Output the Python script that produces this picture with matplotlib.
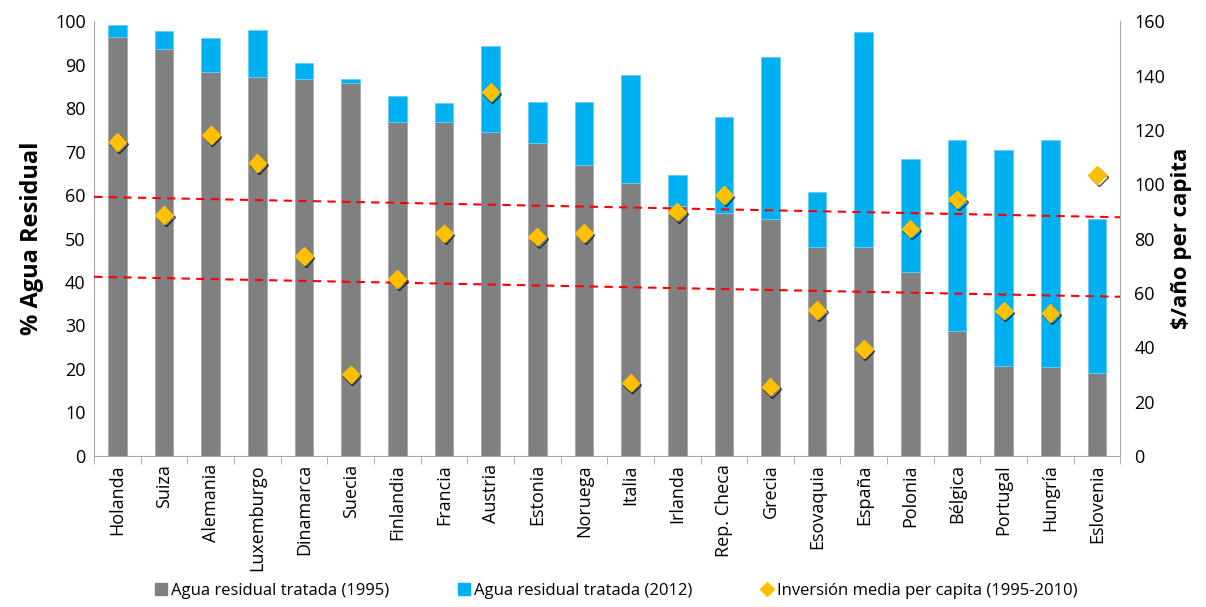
import matplotlib
matplotlib.use("Agg")
import matplotlib.pyplot as plt
import matplotlib.patheffects as pe
from matplotlib.lines import Line2D
import numpy as np

plt.rcParams['font.family'] = ['Open Sans', 'DejaVu Sans']

countries = ["Holanda", "Suiza", "Alemania", "Luxemburgo", "Dinamarca", "Suecia",
             "Finlandia", "Francia", "Austria", "Estonia", "Noruega", "Italia",
             "Irlanda", "Rep. Checa", "Grecia", "Esovaquia", "España", "Polonia",
             "Bélgica", "Portugal", "Hungría", "Eslovenia"]
treated_1995 = [96.4, 93.7, 88.3, 87.2, 86.7, 85.7, 76.8, 76.8, 74.6, 71.9, 66.9,
                62.8, 57.5, 55.8, 54.5, 48.1, 48.1, 42.4, 28.8, 20.7, 20.5, 19.0]
treated_2012 = [99.1, 97.7, 96.1, 97.9, 90.4, 86.7, 82.7, 81.2, 94.3, 81.4, 81.4,
                87.7, 64.6, 77.9, 91.7, 60.8, 97.5, 68.4, 72.6, 70.4, 72.7, 54.5]
investment = [115.6, 88.6, 118.1, 107.7, 73.7, 30.0, 65.0, 81.9, 133.9, 80.7, 82.1,
              27.0, 89.9, 96.0, 25.5, 53.7, 39.4, 83.7, 94.4, 53.5, 52.5, 103.4]
# trend lines (left-axis values at left and right ends of the plot)
trend_upper = [59.6, 54.9]
trend_lower = [41.2, 36.6]

gray = "#808080"
blue = "#00B0F0"
gold = "#FFC000"

fig = plt.figure(figsize=(12.06, 6.07), dpi=100)
ax = fig.add_axes([0.078, 0.249, 0.851, 0.716])
x = np.arange(len(countries))
inc = np.array(treated_2012) - np.array(treated_1995)
ax.bar(x, treated_1995, width=0.4, color=gray, edgecolor="#a6a6a6", linewidth=0.6, zorder=2)
ax.bar(x, inc, bottom=treated_1995, width=0.4, color=blue, edgecolor="#66ccf5", linewidth=0.6, zorder=2)

ax.set_xlim(-0.5, len(countries) - 0.5)
ax.set_ylim(0, 100)
ax.set_yticks(range(0, 101, 10))
ax.plot([-0.5, len(countries) - 0.5], trend_upper, color="#FF0000", ls=(0, (4, 3)), lw=1.5, zorder=3)
ax.plot([-0.5, len(countries) - 0.5], trend_lower, color="#FF0000", ls=(0, (4, 3)), lw=1.5, zorder=3)

ax.set_xticks(x)
ax.set_xticklabels(countries, rotation=90, fontsize=13)
ax.set_xticks(np.arange(-0.5, len(countries), 1), minor=True)
ax.tick_params(axis='x', which='major', length=0, pad=6)
ax.tick_params(axis='x', which='minor', length=6, color="#a6a6a6", direction='out')
ax.tick_params(axis='y', length=0, labelsize=13, pad=6)
for s in ["top", "right"]:
    ax.spines[s].set_visible(False)
for s in ["left", "bottom"]:
    ax.spines[s].set_color("#a6a6a6")
ax.set_ylabel("% Agua Residual", fontsize=17, fontweight="bold", labelpad=8)

ax2 = ax.twinx()
ax2.set_ylim(0, 160)
ax2.set_yticks(range(0, 161, 20))
ax2.tick_params(axis='y', length=0, labelsize=13, pad=10)
for s in ["top", "left", "bottom"]:
    ax2.spines[s].set_visible(False)
ax2.spines["right"].set_color("#a6a6a6")
ax2.plot(x, investment, ls="none", marker="D", markersize=9, color=gold,
         markeredgecolor=gold, zorder=5,
         path_effects=[pe.SimpleLineShadow(offset=(1.2, -1.5), shadow_color="black", alpha=0.7),
                       pe.Normal()])
ax2.set_ylabel("$/año per capita", fontsize=16, fontweight="bold", labelpad=4)
ax2.set_zorder(ax.get_zorder() + 1)
ax2.patch.set_visible(False)

handles = [Line2D([], [], ls="none", marker="s", markersize=9, color=gray),
           Line2D([], [], ls="none", marker="s", markersize=9, color=blue),
           Line2D([], [], ls="none", marker="D", markersize=7, color=gold)]
labels = ["Agua residual tratada (1995)", "Agua residual tratada (2012)",
          "Inversión media per capita (1995-2010)"]
fig.legend(handles, labels, loc="lower center", bbox_to_anchor=(0.51, -0.012), ncol=3,
           frameon=False, fontsize=12, columnspacing=4.0, handletextpad=0.1,
           handlelength=1.0)

fig.savefig("out.png", dpi=100)
